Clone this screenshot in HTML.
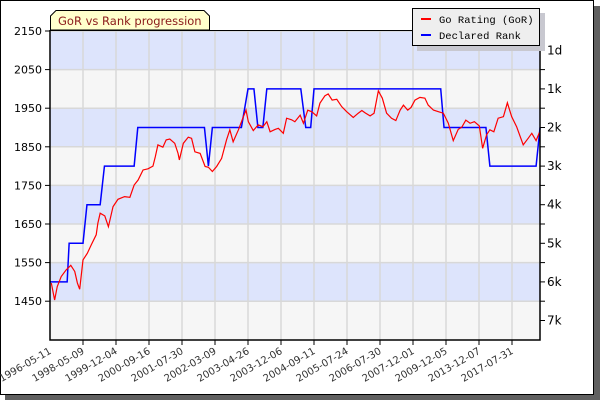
<!DOCTYPE html>
<html><head><meta charset="utf-8"><style>
html,body{margin:0;padding:0;background:#fff;}
svg{display:block;font-family:"DejaVu Sans","Liberation Sans",sans-serif;}
</style></head><body>
<svg id="chart" width="600" height="400" viewBox="0 0 600 400" xmlns="http://www.w3.org/2000/svg">
<rect x="594" y="6" width="6" height="394" fill="#606060"/>
<rect x="5" y="395" width="595" height="5" fill="#606060"/>
<rect x="0.5" y="0.5" width="593" height="394" fill="#fff" stroke="#000"/>
<g id="bands"></g>
<g id="grid"></g>
<g id="series"></g>
<g id="axes"></g>
<g>
<path d="M50.5,30 L50.5,16 L56,10.5 L204,10.5 L209.5,16 L209.5,30 Z" fill="#ffffcc" stroke="#000"/>
<text x="58" y="25" font-size="11.5" fill="#8b1a1a">GoR vs Rank progression</text>
</g>
<g>
<rect x="417" y="13" width="128" height="38" fill="#c8c8d0"/>
<rect x="412.5" y="8.5" width="127" height="37" fill="#eeeeee" stroke="#000"/>
<line x1="421" y1="19" x2="431" y2="19" stroke="#f00" stroke-width="2"/>
<text x="439" y="23" font-size="10.5" font-family="Liberation Mono,monospace">Go Rating (GoR)</text>
<line x1="421" y1="35" x2="431" y2="35" stroke="#00f" stroke-width="2"/>
<text x="439" y="39" font-size="10.5" font-family="Liberation Mono,monospace">Declared Rank</text>
</g>
</svg>
<script>
const xLabels=["1996-05-11","1998-05-09","1999-12-04","2000-09-16","2001-07-30","2002-03-09","2003-04-26","2003-12-06","2004-09-11","2005-07-24","2006-07-30","2007-12-01","2009-12-05","2013-12-07","2017-07-31"];
const yTicks=[2150,2050,1950,1850,1750,1650,1550,1450];
const rankLabels=["1d","1k","2k","3k","4k","5k","6k","7k"];
const rankValues=[2100,2000,1900,1800,1700,1600,1500,1400];
const gorX=[0.04,0.14,0.22,0.34,0.49,0.63,0.75,0.83,0.90,1.00,1.13,1.25,1.40,1.45,1.52,1.66,1.77,1.91,2.06,2.26,2.42,2.55,2.67,2.82,2.97,3.12,3.19,3.27,3.42,3.52,3.63,3.78,3.88,3.92,4.04,4.19,4.29,4.39,4.55,4.70,4.80,4.92,5.05,5.20,5.35,5.45,5.55,5.71,5.86,5.94,6.01,6.16,6.31,6.45,6.57,6.67,6.82,6.92,7.07,7.17,7.32,7.42,7.58,7.68,7.81,7.93,8.08,8.18,8.33,8.43,8.55,8.69,8.84,8.99,9.19,9.34,9.45,9.55,9.70,9.82,9.95,10.07,10.20,10.35,10.48,10.61,10.71,10.84,10.94,11.06,11.21,11.36,11.46,11.62,11.77,11.92,12.07,12.22,12.37,12.48,12.60,12.73,12.86,13.01,13.11,13.23,13.33,13.45,13.58,13.74,13.86,13.99,14.14,14.34,14.49,14.60,14.73,14.83];
const gorValues=[1497,1453,1488,1514,1531,1543,1527,1497,1481,1557,1574,1596,1622,1652,1678,1671,1643,1695,1714,1721,1719,1751,1764,1790,1793,1800,1824,1855,1849,1868,1870,1859,1833,1816,1859,1875,1872,1837,1833,1799,1797,1786,1799,1820,1868,1894,1863,1894,1928,1945,1915,1892,1907,1902,1915,1889,1895,1898,1885,1924,1920,1915,1932,1911,1945,1941,1930,1963,1982,1987,1971,1973,1954,1941,1926,1937,1944,1938,1930,1937,1995,1976,1937,1924,1918,1945,1958,1945,1952,1971,1978,1976,1958,1945,1941,1937,1911,1866,1895,1901,1919,1911,1915,1904,1846,1881,1894,1889,1924,1928,1964,1928,1902,1855,1872,1885,1866,1887];
const rankX=[0,0.52,0.58,1.0,1.12,1.52,1.65,2.55,2.66,4.68,4.8,4.92,5.8,6.0,6.18,6.3,6.45,6.57,7.6,7.75,7.9,8.0,11.84,11.94,13.21,13.33,14.73,14.85];
const rankSeries=[1500,1500,1600,1600,1700,1700,1800,1800,1900,1900,1800,1900,1900,2000,2000,1900,1900,2000,2000,1900,1900,2000,2000,1900,1900,1800,1800,1900];

const NS="http://www.w3.org/2000/svg";
const L=50,R=540,T=31,B=340;
function X(u){return L+33*u;}
function Y(v){return T+(2150-v)*0.386;}
function mk(tag,attrs,parent){const e=document.createElementNS(NS,tag);for(const k in attrs)e.setAttribute(k,attrs[k]);parent.appendChild(e);return e;}
const bands=document.getElementById('bands'),grid=document.getElementById('grid'),series=document.getElementById('series'),axes=document.getElementById('axes');
const bg=mk('rect',{x:L,y:30,width:R-L,height:B-30,fill:'#f6f6f6'},bands);


for(let i=0;i<yTicks.length;i++){
  const v=yTicks[i];
  if(i%2===0){const b=mk('rect',{x:L,y:Y(v),width:R-L,height:Y(v-100)-Y(v),fill:'#dde4fc'},bands);
  
  }
  const g=mk('line',{x1:L,x2:R,y1:Y(v),y2:Y(v),stroke:'#d8d8d8','stroke-width':1.5},grid);
  
  
  const t=mk('line',{x1:L-5,x2:L,y1:Y(v),y2:Y(v),stroke:'#000'},axes);
  
  
  const tr=mk('line',{x1:R,x2:R+5,y1:Y(v),y2:Y(v),stroke:'#000'},axes);
  
  
  const lb=mk('text',{x:L-8,y:Y(v)+4,'font-size':11,'text-anchor':'end',fill:'#000'},axes);
  
  
  lb.textContent=v;
}
for(let i=0;i<rankLabels.length;i++){
  const y=Y(rankValues[i]);
  const t=mk('line',{x1:R,x2:R+5,y1:y,y2:y,stroke:'#000'},axes);
  
  
  const lb=mk('text',{x:R+7,y:y+4,'font-size':12,fill:'#000'},axes);
  
  
  lb.textContent=rankLabels[i];
}
for(let i=0;i<xLabels.length;i++){
  const x=X(i);
  if(i>0){const g=mk('line',{x1:x,x2:x,y1:30,y2:B,stroke:'#d8d8d8','stroke-width':1.5},grid);
  
  
  const t=mk('line',{x1:x,x2:x,y1:B,y2:B+5,stroke:'#000'},axes);
  
  }
  const lb=mk('text',{x:x+2,y:B+13,'font-size':10,'text-anchor':'end',fill:'#333',transform:`rotate(-30 ${x+2} ${B+13})`},axes);
  
  
  lb.textContent=xLabels[i];
}
const ax=mk('path',{d:`M${L},30 L${L},${B} L${R},${B} L${R},30`,fill:'none',stroke:'#000','stroke-width':1.5},axes);


const topl=mk('line',{x1:L,x2:R,y1:30.5,y2:30.5,stroke:'#000'},axes);


const rp=mk('polyline',{points:rankX.map((u,i)=>X(u)+','+Y(rankSeries[i])).join(' '),fill:'none',stroke:'#0000ff','stroke-width':1.5},series);


const gp=mk('polyline',{points:gorX.map((u,i)=>X(u)+','+Y(gorValues[i])).join(' '),fill:'none',stroke:'#ff0000','stroke-width':1.2},series);


</script>
</body></html>
